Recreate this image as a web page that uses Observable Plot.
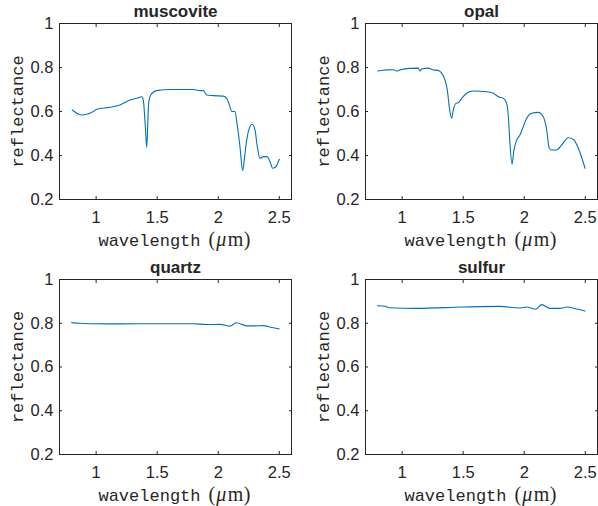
<!DOCTYPE html>
<html><head><meta charset="utf-8">
<script src="https://cdn.jsdelivr.net/npm/d3@7"></script>
<script src="https://cdn.jsdelivr.net/npm/@observablehq/plot@0.6"></script>
<style>
body{margin:0;background:#fff;}
#chart{position:relative;width:598px;height:506px;background:#fff;}
#chart svg{position:absolute;}
</style></head><body><div id="chart"></div>
<script>
const xTicks = [1, 1.5, 2, 2.5];
const yTicks = [0.2, 0.4, 0.6, 0.8, 1];
const titles = ["muscovite", "opal", "quartz", "sulfur"];
const xLabel = "wavelength";
const xUnit = "(μm)";
const yLabel = "reflectance";

const muscoviteW = [0.805,0.882,0.95,0.977,1.005,1.114,1.195,1.277,1.332,1.373,1.386,1.403,1.414,1.42,1.43,1.447,1.496,1.605,1.796,1.851,1.878,1.905,1.96,2.04,2.07,2.096,2.11,2.137,2.15,2.178,2.2,2.213,2.233,2.254,2.277,2.301,2.32,2.342,2.369,2.40,2.424,2.446,2.465,2.5];
const muscoviteR = [0.607,0.584,0.592,0.60,0.61,0.619,0.63,0.652,0.66,0.667,0.652,0.531,0.437,0.50,0.637,0.675,0.695,0.70,0.70,0.695,0.695,0.675,0.672,0.67,0.66,0.622,0.60,0.60,0.561,0.44,0.331,0.38,0.47,0.523,0.542,0.516,0.44,0.387,0.395,0.395,0.372,0.342,0.345,0.383];

const opalW = [0.80,0.874,0.928,0.955,0.982,1.064,1.132,1.146,1.16,1.214,1.255,1.296,1.324,1.351,1.37,1.386,1.406,1.419,1.441,1.46,1.488,1.529,1.583,1.693,1.747,1.788,1.829,1.856,1.87,1.883,1.9,1.916,1.938,1.965,1.992,2.02,2.061,2.115,2.156,2.184,2.205,2.225,2.266,2.307,2.361,2.402,2.443,2.498];
const opalR = [0.784,0.789,0.79,0.784,0.789,0.796,0.797,0.784,0.793,0.797,0.789,0.787,0.774,0.743,0.698,0.622,0.569,0.607,0.637,0.64,0.66,0.683,0.693,0.69,0.683,0.667,0.66,0.637,0.576,0.455,0.361,0.425,0.47,0.493,0.531,0.569,0.592,0.596,0.576,0.516,0.433,0.425,0.425,0.448,0.481,0.474,0.433,0.342];

const quartzW = [0.80,0.86,0.95,1.2,1.5,1.8,1.9,2.015,2.096,2.146,2.233,2.30,2.37,2.43,2.5];
const quartzR = [0.803,0.80,0.798,0.797,0.798,0.798,0.794,0.795,0.787,0.802,0.788,0.788,0.789,0.782,0.774];

const sulfurW = [0.797,0.862,0.89,1.12,1.5,1.80,1.965,2.02,2.096,2.143,2.21,2.293,2.348,2.43,2.498];
const sulfurR = [0.88,0.878,0.871,0.868,0.874,0.877,0.87,0.874,0.864,0.885,0.868,0.868,0.874,0.865,0.856];

const series = [[muscoviteW, muscoviteR], [opalW, opalR], [quartzW, quartzR], [sulfurW, sulfurR]];
const layout = [
  {left: 0,   top: 0,   ml: 59, mr: 8, mt: 23, mb: 54},
  {left: 299, top: 0,   ml: 66, mr: 1, mt: 23, mb: 54},
  {left: 0,   top: 253, ml: 59, mr: 8, mt: 26, mb: 52},
  {left: 299, top: 253, ml: 66, mr: 1, mt: 26, mb: 52}
];
const axisColor = "#262626";
const lineColor = "#0072BD";
const fmt = d => String(d);

const chart = document.getElementById("chart");
titles.forEach((title, k) => {
  const [W, R] = series[k];
  const L = layout[k];
  const data = W.map((w, i) => ({w, r: R[i]}));
  const svg = Plot.plot({
    width: 299, height: 253,
    marginLeft: L.ml, marginRight: L.mr, marginTop: L.mt, marginBottom: L.mb,
    x: {domain: [0.7, 2.6], label: null},
    y: {domain: [0.2, 1], label: null},
    style: {fontFamily: "'Liberation Sans', Arial, sans-serif", color: axisColor, background: "transparent", overflow: "visible"},
    marks: [
      Plot.line(data, {x: "w", y: "r", stroke: lineColor, strokeWidth: 1.1, curve: "monotone-x"}),
      Plot.frame({stroke: axisColor}),
      Plot.axisX(xTicks, {anchor: "bottom", tickSize: 0, tickPadding: 12, fontSize: 16.5, tickFormat: fmt, label: null}),
      Plot.axisX(xTicks, {anchor: "bottom", tickSize: 3, text: null, dy: -3, label: null}),
      Plot.axisX(xTicks, {anchor: "top", tickSize: 3, text: null, dy: 3, label: null}),
      Plot.axisY(yTicks, {anchor: "left", tickSize: 0, tickPadding: 6, fontSize: 16.5, tickFormat: fmt, label: null}),
      Plot.axisY(yTicks, {anchor: "left", tickSize: 3, text: null, dx: 3, label: null}),
      Plot.axisY(yTicks, {anchor: "right", tickSize: 3, text: null, dx: -3, label: null}),
      Plot.text([title], {text: d => d, frameAnchor: "top", dy: -7, textAnchor: "middle", lineAnchor: "bottom", fontWeight: "bold", fontSize: 17}),
      Plot.text([yLabel], {text: d => d, frameAnchor: "left", dx: -36.5, rotate: -90, textAnchor: "middle", lineAnchor: "bottom", fontFamily: "'Liberation Mono', monospace", fontSize: 17}),
      Plot.text([xLabel], {text: d => d, frameAnchor: "bottom", dy: 46, dx: 25, textAnchor: "end", lineAnchor: "bottom", fontFamily: "'Liberation Mono', monospace", fontSize: 17}),
      Plot.text([xUnit], {text: d => d, frameAnchor: "bottom", dy: 46, dx: 33, textAnchor: "start", lineAnchor: "bottom", fontFamily: "'Liberation Serif', serif", fontSize: 20})
    ]
  });
  svg.querySelectorAll("text").forEach(t => {
    if (t.textContent === xUnit) {
      t.textContent = "";
      const parts = [["(", "normal", 0], ["μ", "italic", 1], ["m", "normal", 1.5], [")", "normal", 0.5]];
      parts.forEach(([s, fs, dx]) => {
        const ts = document.createElementNS("http://www.w3.org/2000/svg", "tspan");
        ts.textContent = s;
        ts.setAttribute("font-style", fs);
        if (dx) ts.setAttribute("dx", dx);
        t.appendChild(ts);
      });
    }
  });
  svg.style.left = L.left + "px";
  svg.style.top = L.top + "px";
  chart.appendChild(svg);
});
</script></body></html>
